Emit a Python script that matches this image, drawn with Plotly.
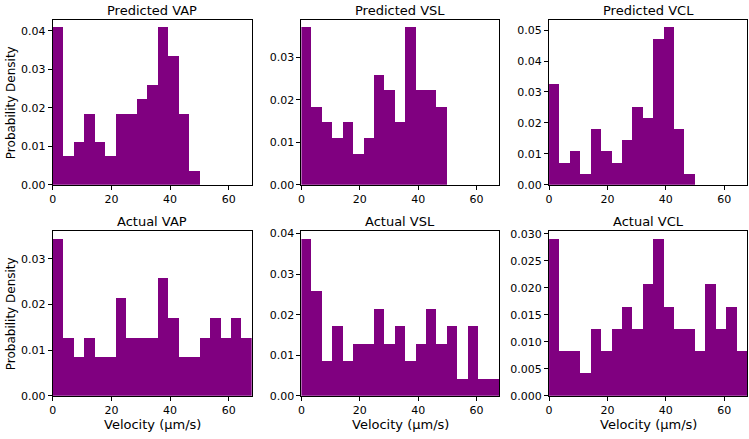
import numpy as np
import plotly.graph_objects as go

# Histogram bin setup (velocity, µm/s)
x_max = 67.8
n_bins = 19
edges = np.linspace(0, x_max, n_bins + 1)
centers = (edges[:-1] + edges[1:]) / 2
width = edges[1] - edges[0]

titles = ["Predicted VAP", "Predicted VSL", "Predicted VCL",
          "Actual VAP", "Actual VSL", "Actual VCL"]

pred_vap = [0.0410, 0.0075, 0.0111, 0.0185, 0.0111, 0.0075, 0.0185, 0.0185, 0.0223,
            0.0259, 0.0410, 0.0336, 0.0185, 0.0036]
pred_vsl = [0.0372, 0.0185, 0.0148, 0.0111, 0.0148, 0.0074, 0.0111, 0.0260, 0.0223,
            0.0148, 0.0372, 0.0223, 0.0223, 0.0185]
pred_vcl = [0.0327, 0.0072, 0.0109, 0.0037, 0.0182, 0.0109, 0.0072, 0.0145, 0.0254,
            0.0218, 0.0473, 0.0511, 0.0182, 0.0037]
act_vap = [0.0344, 0.0128, 0.0086, 0.0128, 0.0086, 0.0086, 0.0215, 0.0128, 0.0128,
           0.0128, 0.0259, 0.0171, 0.0086, 0.0086, 0.0128, 0.0171, 0.0128, 0.0171, 0.0128]
act_vsl = [0.0387, 0.0258, 0.0086, 0.0172, 0.0086, 0.0129, 0.0129, 0.0215, 0.0129,
           0.0172, 0.0086, 0.0129, 0.0215, 0.0129, 0.0172, 0.0043, 0.0172, 0.0043, 0.0043]
act_vcl = [0.0291, 0.0084, 0.0084, 0.0042, 0.0125, 0.0084, 0.0125, 0.0166, 0.0125,
           0.0208, 0.0291, 0.0166, 0.0125, 0.0125, 0.0084, 0.0208, 0.0125, 0.0166, 0.0084]

series = [pred_vap, pred_vsl, pred_vcl, act_vap, act_vsl, act_vcl]
y_max = [0.0429, 0.0389, 0.0534, 0.0362, 0.0407, 0.0306]
y_dtick = [0.01, 0.01, 0.01, 0.01, 0.01, 0.005]
y_fmt = [".2f", ".2f", ".2f", ".2f", ".2f", ".3f"]

W, H = 749, 439
col_px = [(49, 249), (299, 498), (548, 747)]
row_px = [(17, 186), (233, 402)]

FONT = "DejaVu Sans"
PURPLE = "#800080"

fig = go.Figure()
annotations = []
for i, vals in enumerate(series):
    r, c = divmod(i, 3)
    n = len(vals)
    ax = "" if i == 0 else str(i + 1)
    fig.add_trace(go.Bar(
        x=centers[:n], y=vals, width=width,
        marker=dict(color=PURPLE, line=dict(width=0)),
        xaxis="x" + ax, yaxis="y" + ax, showlegend=False,
        hoverinfo="skip",
    ))
    x0, x1 = col_px[c]
    y0, y1 = row_px[r]
    dom_x = [x0 / W, x1 / W]
    dom_y = [1 - y1 / H, 1 - y0 / H]
    common = dict(showline=True, linecolor="black", linewidth=1, mirror=True,
                  ticks="outside", ticklen=4, tickwidth=1, tickcolor="black",
                  showgrid=False, zeroline=False,
                  tickfont=dict(family=FONT, size=11, color="black"))
    fig.update_layout(**{
        "xaxis" + ax: dict(domain=dom_x, range=[0, x_max], tickvals=[0, 20, 40, 60],
                           anchor="y" + ax, **common),
        "yaxis" + ax: dict(domain=dom_y, range=[0, y_max[i]], dtick=y_dtick[i],
                           tick0=0, tickformat=y_fmt[i], anchor="x" + ax, **common),
    })
    annotations.append(dict(text=titles[i], x=(x0 + x1) / 2 / W, y=1 - (y0 - 9) / H,
                            xref="paper", yref="paper", xanchor="center", yanchor="middle",
                            showarrow=False, font=dict(family=FONT, size=13, color="black")))
    if r == 1:
        annotations.append(dict(text="Velocity (µm/s)", x=(x0 + x1) / 2 / W, y=1 - 431 / H,
                                xref="paper", yref="paper", xanchor="center", yanchor="middle",
                                showarrow=False, font=dict(family=FONT, size=13, color="black")))
    if c == 0:
        annotations.append(dict(text="Probability Density", x=7 / W, y=1 - (y0 + y1) / 2 / H,
                                xref="paper", yref="paper", xanchor="center", yanchor="middle",
                                textangle=-90, showarrow=False,
                                font=dict(family=FONT, size=12, color="black")))

fig.update_layout(width=W, height=H, margin=dict(l=0, r=0, t=0, b=0),
                  paper_bgcolor="white", plot_bgcolor="white", bargap=0,
                  annotations=annotations)
fig.write_html("out.html")
